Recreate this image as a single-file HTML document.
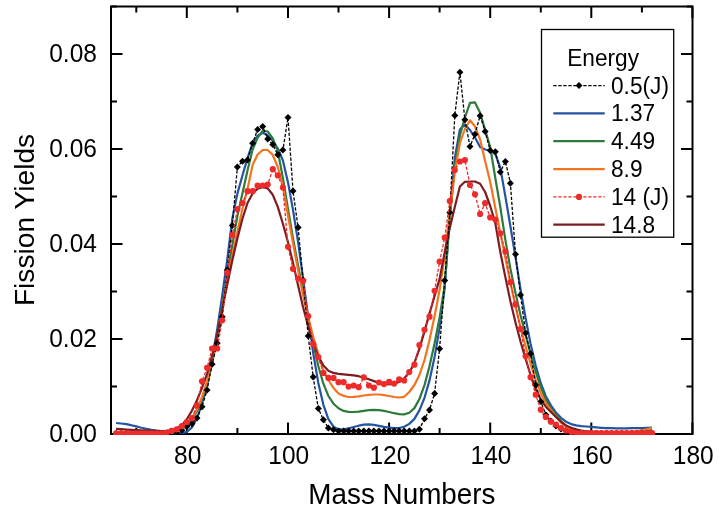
<!DOCTYPE html>
<html><head><meta charset="utf-8">
<style>
html,body{margin:0;padding:0;background:#fff;}
body{width:724px;height:515px;overflow:hidden;}
svg{display:block;font-family:"Liberation Sans", sans-serif;filter:blur(0.45px);}
</style></head>
<body>
<svg width="724" height="515" viewBox="0 0 724 515">
<rect width="724" height="515" fill="#fff"/>
<defs><clipPath id="pc"><rect x="110" y="5.5" width="583.5" height="429.5"/></clipPath></defs>
<rect x="111" y="6.5" width="581.5" height="427.5" fill="none" stroke="#000" stroke-width="2"/>
<path stroke="#000" stroke-width="2" fill="none" d="M136.3 434v-6M136.3 6.5v6M186.8 434v-11.5M186.8 6.5v11.5M237.4 434v-6M237.4 6.5v6M288.0 434v-11.5M288.0 6.5v11.5M338.5 434v-6M338.5 6.5v6M389.1 434v-11.5M389.1 6.5v11.5M439.6 434v-6M439.6 6.5v6M490.2 434v-11.5M490.2 6.5v11.5M540.8 434v-6M540.8 6.5v6M591.3 434v-11.5M591.3 6.5v11.5M641.9 434v-6M641.9 6.5v6M692.4 434v-11.5M692.4 6.5v11.5M111 434.0h11.5M692.5 434.0h-11.5M111 386.5h6M692.5 386.5h-6M111 339.0h11.5M692.5 339.0h-11.5M111 291.5h6M692.5 291.5h-6M111 244.0h11.5M692.5 244.0h-11.5M111 196.5h6M692.5 196.5h-6M111 149.0h11.5M692.5 149.0h-11.5M111 101.5h6M692.5 101.5h-6M111 54.0h11.5M692.5 54.0h-11.5M111 6.5h6M692.5 6.5h-6"/>
<g clip-path="url(#pc)">
<path d="M116.1 423.0 L121.1 423.5 L126.2 424.2 L131.2 425.2 L136.3 426.4 L141.3 427.7 L146.4 428.9 L151.4 429.9 L156.5 430.7 L161.6 431.3 L166.6 432.0 L171.7 432.5 L176.7 432.9 L181.8 433.0 L186.8 431.9 L191.9 427.5 L197.0 418.0 L202.0 403.5 L207.1 384.4 L212.1 359.7 L217.2 329.5 L222.2 295.9 L227.3 259.2 L232.3 218.8 L237.4 193.6 L242.5 175.2 L247.5 158.1 L252.6 143.0 L257.6 135.6 L262.7 132.7 L267.7 135.2 L272.8 141.0 L277.8 148.5 L282.9 160.5 L288.0 182.4 L293.0 209.9 L298.1 242.2 L303.1 278.9 L308.2 317.2 L313.2 353.2 L318.3 382.9 L323.4 404.8 L328.4 419.1 L333.5 426.7 L338.5 429.4 L343.6 429.4 L348.6 428.3 L353.7 427.0 L358.7 425.7 L363.8 424.7 L368.9 424.4 L373.9 424.9 L379.0 425.8 L384.0 426.8 L389.1 427.7 L394.1 428.2 L399.2 428.0 L404.2 426.7 L409.3 423.9 L414.4 418.9 L419.4 410.4 L424.5 397.8 L429.5 380.4 L434.6 356.9 L439.6 327.9 L444.7 287.9 L449.8 214.8 L454.8 158.0 L459.9 129.5 L464.9 124.5 L470.0 130.0 L475.0 137.5 L480.1 147.0 L485.1 149.5 L490.2 150.5 L495.3 154.0 L500.3 167.7 L505.4 196.6 L510.4 226.3 L515.5 257.3 L520.5 288.8 L525.6 318.2 L530.6 343.9 L535.7 365.6 L540.8 383.2 L545.8 396.2 L550.9 405.4 L555.9 412.4 L561.0 417.8 L566.0 421.7 L571.1 424.1 L576.2 425.4 L581.2 426.1 L586.3 426.5 L591.3 426.9 L596.4 427.4 L601.4 427.8 L606.5 428.1 L611.5 428.2 L616.6 428.3 L621.7 428.3 L626.7 428.3 L631.8 428.2 L636.8 428.2 L641.9 428.1 L646.9 427.9 L652.0 427.7" fill="none" stroke="#2453a2" stroke-width="2.2" stroke-linejoin="round"/>
<path d="M116.1 433.4 L121.1 433.4 L126.2 433.3 L131.2 433.3 L136.3 433.2 L141.3 433.2 L146.4 433.1 L151.4 433.0 L156.5 432.9 L161.6 432.6 L166.6 432.2 L171.7 431.4 L176.7 430.1 L181.8 428.0 L186.8 424.7 L191.9 419.4 L197.0 411.2 L202.0 399.4 L207.1 383.9 L212.1 363.5 L217.2 337.4 L222.2 307.3 L227.3 276.3 L232.3 245.4 L237.4 216.1 L242.5 193.0 L247.5 170.5 L252.6 149.5 L257.6 137.9 L262.7 130.8 L267.7 131.5 L272.8 138.5 L277.8 151.0 L282.9 178.0 L288.0 208.9 L293.0 238.3 L298.1 265.6 L303.1 291.8 L308.2 318.1 L313.2 343.5 L318.3 366.0 L323.4 383.7 L328.4 396.0 L333.5 403.7 L338.5 408.3 L343.6 410.9 L348.6 411.9 L353.7 412.0 L358.7 411.6 L363.8 410.8 L368.9 410.2 L373.9 409.9 L379.0 410.1 L384.0 410.9 L389.1 412.0 L394.1 413.2 L399.2 414.2 L404.2 414.4 L409.3 412.8 L414.4 408.1 L419.4 399.0 L424.5 385.1 L429.5 366.2 L434.6 343.2 L439.6 317.5 L444.7 285.4 L449.8 218.1 L454.8 166.7 L459.9 135.5 L464.9 117.5 L470.0 102.8 L475.0 102.4 L480.1 112.8 L485.1 129.5 L490.2 147.0 L495.3 178.0 L500.3 207.0 L505.4 240.2 L510.4 268.8 L515.5 293.1 L520.5 315.1 L525.6 335.2 L530.6 354.1 L535.7 371.6 L540.8 387.3 L545.8 399.6 L550.9 408.2 L555.9 414.9 L561.0 421.0 L566.0 425.9 L571.1 428.9 L576.2 430.4 L581.2 431.2 L586.3 431.7 L591.3 432.1 L596.4 432.4 L601.4 432.5 L606.5 432.6 L611.5 432.7 L616.6 432.8 L621.7 432.8 L626.7 432.7 L631.8 432.5 L636.8 432.1 L641.9 431.6 L646.9 430.9 L652.0 430.0" fill="none" stroke="#2e7a3c" stroke-width="2.2" stroke-linejoin="round"/>
<path d="M116.1 433.4 L121.1 433.4 L126.2 433.4 L131.2 433.3 L136.3 433.3 L141.3 433.2 L146.4 433.1 L151.4 433.0 L156.5 432.9 L161.6 432.6 L166.6 432.2 L171.7 431.3 L176.7 429.7 L181.8 427.3 L186.8 423.8 L191.9 418.1 L197.0 409.4 L202.0 397.1 L207.1 381.2 L212.1 360.8 L217.2 335.7 L222.2 308.2 L227.3 281.3 L232.3 255.6 L237.4 231.7 L242.5 208.5 L247.5 189.0 L252.6 165.0 L257.6 154.5 L262.7 150.0 L267.7 150.0 L272.8 155.0 L277.8 167.0 L282.9 186.0 L288.0 215.8 L293.0 243.1 L298.1 270.2 L303.1 295.2 L308.2 317.3 L313.2 336.9 L318.3 353.8 L323.4 371.0 L328.4 380.0 L333.5 388.0 L338.5 393.5 L343.6 395.9 L348.6 397.0 L353.7 396.9 L358.7 396.3 L363.8 395.5 L368.9 394.9 L373.9 394.5 L379.0 394.5 L384.0 395.1 L389.1 396.0 L394.1 397.0 L399.2 397.5 L404.2 396.8 L409.3 392.0 L414.4 385.0 L419.4 375.0 L424.5 360.0 L429.5 340.0 L434.6 316.0 L439.6 290.0 L444.7 255.5 L449.8 211.9 L454.8 171.9 L459.9 143.0 L464.9 129.0 L470.0 120.3 L475.0 126.5 L480.1 139.5 L485.1 161.0 L490.2 182.0 L495.3 207.8 L500.3 232.9 L505.4 258.1 L510.4 282.9 L515.5 306.2 L520.5 327.3 L525.6 346.3 L530.6 363.8 L535.7 379.9 L540.8 393.4 L545.8 403.1 L550.9 410.2 L555.9 416.6 L561.0 422.6 L566.0 427.0 L571.1 429.5 L576.2 430.7 L581.2 431.2 L586.3 431.4 L591.3 431.6 L596.4 431.7 L601.4 431.9 L606.5 431.9 L611.5 432.0 L616.6 431.9 L621.7 431.9 L626.7 431.8 L631.8 431.6 L636.8 431.1 L641.9 430.4 L646.9 429.2 L652.0 427.8" fill="none" stroke="#f47320" stroke-width="2.2" stroke-linejoin="round"/>
<path d="M116.1 428.8 L121.1 429.2 L126.2 429.6 L131.2 429.9 L136.3 430.2 L141.3 430.4 L146.4 430.6 L151.4 430.8 L156.5 430.9 L161.6 431.0 L166.6 430.8 L171.7 430.2 L176.7 428.5 L181.8 425.1 L186.8 419.2 L191.9 410.8 L197.0 400.2 L202.0 387.9 L207.1 373.6 L212.1 355.9 L217.2 333.9 L222.2 309.2 L227.3 284.5 L232.3 260.5 L237.4 238.6 L242.5 218.5 L247.5 203.0 L252.6 193.4 L257.6 188.8 L262.7 187.0 L267.7 188.4 L272.8 194.8 L277.8 206.9 L282.9 223.8 L288.0 242.2 L293.0 262.8 L298.1 285.4 L303.1 307.2 L308.2 326.5 L313.2 343.1 L318.3 356.4 L323.4 365.6 L328.4 370.7 L333.5 372.9 L338.5 373.9 L343.6 374.4 L348.6 374.8 L353.7 375.3 L358.7 376.2 L363.8 377.7 L368.9 379.3 L373.9 381.1 L379.0 382.6 L384.0 383.8 L389.1 384.3 L394.1 383.8 L399.2 382.0 L404.2 378.4 L409.3 372.5 L414.4 362.9 L419.4 348.8 L424.5 331.4 L429.5 313.4 L434.6 296.0 L439.6 278.9 L444.7 252.4 L449.8 228.0 L454.8 207.0 L459.9 186.5 L464.9 181.8 L470.0 181.5 L475.0 181.5 L480.1 183.8 L485.1 192.0 L490.2 206.0 L495.3 223.0 L500.3 252.0 L505.4 277.4 L510.4 301.2 L515.5 322.5 L520.5 341.5 L525.6 358.9 L530.6 375.0 L535.7 389.0 L540.8 399.6 L545.8 406.7 L550.9 411.9 L555.9 417.0 L561.0 421.8 L566.0 425.4 L571.1 427.8 L576.2 429.4 L581.2 430.6 L586.3 431.4 L591.3 431.8 L596.4 432.0 L601.4 432.1 L606.5 432.2 L611.5 432.2 L616.6 432.3 L621.7 432.3 L626.7 432.3 L631.8 432.4 L636.8 432.4 L641.9 432.4 L646.9 432.5 L652.0 432.5" fill="none" stroke="#7a1c22" stroke-width="2.2" stroke-linejoin="round"/>
<path d="M116.1 433.5 L121.1 433.5 L126.2 433.5 L131.2 433.5 L136.3 433.5 L141.3 433.5 L146.4 433.5 L151.4 433.5 L156.5 433.5 L161.6 433.5 L166.6 433.5 L171.7 433.5 L176.7 433.5 L181.8 430.3 L186.8 426.4 L191.9 423.8 L197.0 418.1 L202.0 406.7 L207.1 389.9 L212.1 364.3 L217.2 343.2 L222.2 316.7 L227.3 270.0 L232.3 225.4 L237.4 167.0 L242.5 161.2 L247.5 160.0 L252.6 143.3 L257.6 129.5 L262.7 126.5 L267.7 139.0 L272.8 144.5 L277.8 154.8 L282.9 150.1 L288.0 117.5 L293.0 191.0 L298.1 227.6 L303.1 280.0 L308.2 336.0 L313.2 377.1 L318.3 408.4 L323.4 419.8 L328.4 427.9 L333.5 429.8 L338.5 431.0 L343.6 431.0 L348.6 431.0 L353.7 431.0 L358.7 431.0 L363.8 431.0 L368.9 431.0 L373.9 431.0 L379.0 431.0 L384.0 431.0 L389.1 431.0 L394.1 431.0 L399.2 431.0 L404.2 431.0 L409.3 431.0 L414.4 431.0 L419.4 429.2 L424.5 418.8 L429.5 410.1 L434.6 393.4 L439.6 348.7 L444.7 280.4 L449.8 212.5 L454.8 115.4 L459.9 72.2 L464.9 119.8 L470.0 146.4 L475.0 134.2 L480.1 115.7 L485.1 131.5 L490.2 150.5 L495.3 151.8 L500.3 172.0 L505.4 161.4 L510.4 183.2 L515.5 254.3 L520.5 295.1 L525.6 332.9 L530.6 353.8 L535.7 384.9 L540.8 401.5 L545.8 414.7 L550.9 421.0 L555.9 426.1 L561.0 429.0 L566.0 431.0 L571.1 433.3 L576.2 433.3 L581.2 433.3 L586.3 433.3 L591.3 433.3 L596.4 433.3 L601.4 433.3 L606.5 433.3 L611.5 433.3 L616.6 433.3 L621.7 433.3 L626.7 433.3 L631.8 433.3 L636.8 433.3 L641.9 433.3 L646.9 433.3 L652.0 433.3" fill="none" stroke="#000" stroke-width="1.3" stroke-dasharray="3.3 1.7"/>
<path d="M116.1 430.0l3.5 3.5l-3.5 3.5l-3.5-3.5z"/><path d="M121.1 430.0l3.5 3.5l-3.5 3.5l-3.5-3.5z"/><path d="M126.2 430.0l3.5 3.5l-3.5 3.5l-3.5-3.5z"/><path d="M131.2 430.0l3.5 3.5l-3.5 3.5l-3.5-3.5z"/><path d="M136.3 430.0l3.5 3.5l-3.5 3.5l-3.5-3.5z"/><path d="M141.3 430.0l3.5 3.5l-3.5 3.5l-3.5-3.5z"/><path d="M146.4 430.0l3.5 3.5l-3.5 3.5l-3.5-3.5z"/><path d="M151.4 430.0l3.5 3.5l-3.5 3.5l-3.5-3.5z"/><path d="M156.5 430.0l3.5 3.5l-3.5 3.5l-3.5-3.5z"/><path d="M161.6 430.0l3.5 3.5l-3.5 3.5l-3.5-3.5z"/><path d="M166.6 430.0l3.5 3.5l-3.5 3.5l-3.5-3.5z"/><path d="M171.7 430.0l3.5 3.5l-3.5 3.5l-3.5-3.5z"/><path d="M176.7 430.0l3.5 3.5l-3.5 3.5l-3.5-3.5z"/><path d="M181.8 426.8l3.5 3.5l-3.5 3.5l-3.5-3.5z"/><path d="M186.8 422.9l3.5 3.5l-3.5 3.5l-3.5-3.5z"/><path d="M191.9 420.3l3.5 3.5l-3.5 3.5l-3.5-3.5z"/><path d="M197.0 414.6l3.5 3.5l-3.5 3.5l-3.5-3.5z"/><path d="M202.0 403.2l3.5 3.5l-3.5 3.5l-3.5-3.5z"/><path d="M207.1 386.4l3.5 3.5l-3.5 3.5l-3.5-3.5z"/><path d="M212.1 360.8l3.5 3.5l-3.5 3.5l-3.5-3.5z"/><path d="M217.2 339.7l3.5 3.5l-3.5 3.5l-3.5-3.5z"/><path d="M222.2 313.2l3.5 3.5l-3.5 3.5l-3.5-3.5z"/><path d="M227.3 266.5l3.5 3.5l-3.5 3.5l-3.5-3.5z"/><path d="M232.3 221.9l3.5 3.5l-3.5 3.5l-3.5-3.5z"/><path d="M237.4 163.5l3.5 3.5l-3.5 3.5l-3.5-3.5z"/><path d="M242.5 157.7l3.5 3.5l-3.5 3.5l-3.5-3.5z"/><path d="M247.5 156.5l3.5 3.5l-3.5 3.5l-3.5-3.5z"/><path d="M252.6 139.8l3.5 3.5l-3.5 3.5l-3.5-3.5z"/><path d="M257.6 126.0l3.5 3.5l-3.5 3.5l-3.5-3.5z"/><path d="M262.7 123.0l3.5 3.5l-3.5 3.5l-3.5-3.5z"/><path d="M267.7 135.5l3.5 3.5l-3.5 3.5l-3.5-3.5z"/><path d="M272.8 141.0l3.5 3.5l-3.5 3.5l-3.5-3.5z"/><path d="M277.8 151.3l3.5 3.5l-3.5 3.5l-3.5-3.5z"/><path d="M282.9 146.6l3.5 3.5l-3.5 3.5l-3.5-3.5z"/><path d="M288.0 114.0l3.5 3.5l-3.5 3.5l-3.5-3.5z"/><path d="M293.0 187.5l3.5 3.5l-3.5 3.5l-3.5-3.5z"/><path d="M298.1 224.1l3.5 3.5l-3.5 3.5l-3.5-3.5z"/><path d="M303.1 276.5l3.5 3.5l-3.5 3.5l-3.5-3.5z"/><path d="M308.2 332.5l3.5 3.5l-3.5 3.5l-3.5-3.5z"/><path d="M313.2 373.6l3.5 3.5l-3.5 3.5l-3.5-3.5z"/><path d="M318.3 404.9l3.5 3.5l-3.5 3.5l-3.5-3.5z"/><path d="M323.4 416.3l3.5 3.5l-3.5 3.5l-3.5-3.5z"/><path d="M328.4 424.4l3.5 3.5l-3.5 3.5l-3.5-3.5z"/><path d="M333.5 426.3l3.5 3.5l-3.5 3.5l-3.5-3.5z"/><path d="M338.5 427.5l3.5 3.5l-3.5 3.5l-3.5-3.5z"/><path d="M343.6 427.5l3.5 3.5l-3.5 3.5l-3.5-3.5z"/><path d="M348.6 427.5l3.5 3.5l-3.5 3.5l-3.5-3.5z"/><path d="M353.7 427.5l3.5 3.5l-3.5 3.5l-3.5-3.5z"/><path d="M358.7 427.5l3.5 3.5l-3.5 3.5l-3.5-3.5z"/><path d="M363.8 427.5l3.5 3.5l-3.5 3.5l-3.5-3.5z"/><path d="M368.9 427.5l3.5 3.5l-3.5 3.5l-3.5-3.5z"/><path d="M373.9 427.5l3.5 3.5l-3.5 3.5l-3.5-3.5z"/><path d="M379.0 427.5l3.5 3.5l-3.5 3.5l-3.5-3.5z"/><path d="M384.0 427.5l3.5 3.5l-3.5 3.5l-3.5-3.5z"/><path d="M389.1 427.5l3.5 3.5l-3.5 3.5l-3.5-3.5z"/><path d="M394.1 427.5l3.5 3.5l-3.5 3.5l-3.5-3.5z"/><path d="M399.2 427.5l3.5 3.5l-3.5 3.5l-3.5-3.5z"/><path d="M404.2 427.5l3.5 3.5l-3.5 3.5l-3.5-3.5z"/><path d="M409.3 427.5l3.5 3.5l-3.5 3.5l-3.5-3.5z"/><path d="M414.4 427.5l3.5 3.5l-3.5 3.5l-3.5-3.5z"/><path d="M419.4 425.7l3.5 3.5l-3.5 3.5l-3.5-3.5z"/><path d="M424.5 415.3l3.5 3.5l-3.5 3.5l-3.5-3.5z"/><path d="M429.5 406.6l3.5 3.5l-3.5 3.5l-3.5-3.5z"/><path d="M434.6 389.9l3.5 3.5l-3.5 3.5l-3.5-3.5z"/><path d="M439.6 345.2l3.5 3.5l-3.5 3.5l-3.5-3.5z"/><path d="M444.7 276.9l3.5 3.5l-3.5 3.5l-3.5-3.5z"/><path d="M449.8 209.0l3.5 3.5l-3.5 3.5l-3.5-3.5z"/><path d="M454.8 111.9l3.5 3.5l-3.5 3.5l-3.5-3.5z"/><path d="M459.9 68.7l3.5 3.5l-3.5 3.5l-3.5-3.5z"/><path d="M464.9 116.3l3.5 3.5l-3.5 3.5l-3.5-3.5z"/><path d="M470.0 142.9l3.5 3.5l-3.5 3.5l-3.5-3.5z"/><path d="M475.0 130.7l3.5 3.5l-3.5 3.5l-3.5-3.5z"/><path d="M480.1 112.2l3.5 3.5l-3.5 3.5l-3.5-3.5z"/><path d="M485.1 128.0l3.5 3.5l-3.5 3.5l-3.5-3.5z"/><path d="M490.2 147.0l3.5 3.5l-3.5 3.5l-3.5-3.5z"/><path d="M495.3 148.3l3.5 3.5l-3.5 3.5l-3.5-3.5z"/><path d="M500.3 168.5l3.5 3.5l-3.5 3.5l-3.5-3.5z"/><path d="M505.4 157.9l3.5 3.5l-3.5 3.5l-3.5-3.5z"/><path d="M510.4 179.7l3.5 3.5l-3.5 3.5l-3.5-3.5z"/><path d="M515.5 250.8l3.5 3.5l-3.5 3.5l-3.5-3.5z"/><path d="M520.5 291.6l3.5 3.5l-3.5 3.5l-3.5-3.5z"/><path d="M525.6 329.4l3.5 3.5l-3.5 3.5l-3.5-3.5z"/><path d="M530.6 350.3l3.5 3.5l-3.5 3.5l-3.5-3.5z"/><path d="M535.7 381.4l3.5 3.5l-3.5 3.5l-3.5-3.5z"/><path d="M540.8 398.0l3.5 3.5l-3.5 3.5l-3.5-3.5z"/><path d="M545.8 411.2l3.5 3.5l-3.5 3.5l-3.5-3.5z"/><path d="M550.9 417.5l3.5 3.5l-3.5 3.5l-3.5-3.5z"/><path d="M555.9 422.6l3.5 3.5l-3.5 3.5l-3.5-3.5z"/><path d="M561.0 425.5l3.5 3.5l-3.5 3.5l-3.5-3.5z"/><path d="M566.0 427.5l3.5 3.5l-3.5 3.5l-3.5-3.5z"/><path d="M571.1 429.8l3.5 3.5l-3.5 3.5l-3.5-3.5z"/><path d="M576.2 429.8l3.5 3.5l-3.5 3.5l-3.5-3.5z"/><path d="M581.2 429.8l3.5 3.5l-3.5 3.5l-3.5-3.5z"/><path d="M586.3 429.8l3.5 3.5l-3.5 3.5l-3.5-3.5z"/><path d="M591.3 429.8l3.5 3.5l-3.5 3.5l-3.5-3.5z"/><path d="M596.4 429.8l3.5 3.5l-3.5 3.5l-3.5-3.5z"/><path d="M601.4 429.8l3.5 3.5l-3.5 3.5l-3.5-3.5z"/><path d="M606.5 429.8l3.5 3.5l-3.5 3.5l-3.5-3.5z"/><path d="M611.5 429.8l3.5 3.5l-3.5 3.5l-3.5-3.5z"/><path d="M616.6 429.8l3.5 3.5l-3.5 3.5l-3.5-3.5z"/><path d="M621.7 429.8l3.5 3.5l-3.5 3.5l-3.5-3.5z"/><path d="M626.7 429.8l3.5 3.5l-3.5 3.5l-3.5-3.5z"/><path d="M631.8 429.8l3.5 3.5l-3.5 3.5l-3.5-3.5z"/><path d="M636.8 429.8l3.5 3.5l-3.5 3.5l-3.5-3.5z"/><path d="M641.9 429.8l3.5 3.5l-3.5 3.5l-3.5-3.5z"/><path d="M646.9 429.8l3.5 3.5l-3.5 3.5l-3.5-3.5z"/><path d="M652.0 429.8l3.5 3.5l-3.5 3.5l-3.5-3.5z"/>
<path d="M116.1 433.3 L121.1 433.3 L126.2 433.3 L131.2 433.3 L136.3 433.3 L141.3 433.3 L146.4 433.3 L151.4 433.3 L156.5 433.3 L161.6 433.3 L166.6 432.5 L171.7 430.9 L176.7 429.3 L181.8 426.2 L186.8 422.0 L191.9 418.2 L197.0 405.6 L202.0 381.3 L207.1 367.8 L212.1 348.5 L217.2 348.5 L222.2 320.3 L227.3 272.7 L232.3 235.2 L237.4 209.0 L242.5 203.0 L247.5 191.2 L252.6 191.2 L257.6 185.7 L262.7 185.5 L267.7 184.5 L272.8 169.2 L277.8 175.4 L282.9 187.5 L288.0 246.8 L293.0 268.8 L298.1 278.5 L303.1 281.0 L308.2 316.2 L313.2 344.2 L318.3 357.2 L323.4 372.9 L328.4 377.9 L333.5 377.9 L338.5 382.2 L343.6 382.2 L348.6 386.6 L353.7 385.5 L358.7 387.2 L363.8 377.3 L368.9 385.5 L373.9 387.7 L379.0 382.5 L384.0 384.1 L389.1 381.8 L394.1 383.6 L399.2 379.4 L404.2 380.5 L409.3 372.1 L414.4 364.7 L419.4 345.0 L424.5 329.8 L429.5 316.7 L434.6 290.8 L439.6 261.6 L444.7 237.7 L449.8 201.0 L454.8 170.0 L459.9 161.5 L464.9 160.1 L470.0 185.0 L475.0 194.3 L480.1 214.0 L485.1 203.2 L490.2 217.4 L495.3 219.6 L500.3 233.4 L505.4 251.6 L510.4 282.2 L515.5 304.4 L520.5 329.0 L525.6 356.1 L530.6 377.2 L535.7 394.7 L540.8 409.7 L545.8 416.9 L550.9 421.7 L555.9 424.5 L561.0 428.0 L566.0 430.5 L571.1 431.8 L576.2 433.2 L581.2 433.2 L586.3 433.2 L591.3 433.2 L596.4 433.2 L601.4 433.2 L606.5 433.2 L611.5 433.2 L616.6 433.2 L621.7 433.2 L626.7 433.2 L631.8 433.2 L636.8 433.2 L641.9 433.2 L646.9 433.2 L652.0 433.2" fill="none" stroke="#ee2b2b" stroke-width="1.3" stroke-dasharray="3.3 1.7"/>
<g fill="#ee2b2b"><circle cx="116.1" cy="433.3" r="3.1"/><circle cx="121.1" cy="433.3" r="3.1"/><circle cx="126.2" cy="433.3" r="3.1"/><circle cx="131.2" cy="433.3" r="3.1"/><circle cx="136.3" cy="433.3" r="3.1"/><circle cx="141.3" cy="433.3" r="3.1"/><circle cx="146.4" cy="433.3" r="3.1"/><circle cx="151.4" cy="433.3" r="3.1"/><circle cx="156.5" cy="433.3" r="3.1"/><circle cx="161.6" cy="433.3" r="3.1"/><circle cx="166.6" cy="432.5" r="3.1"/><circle cx="171.7" cy="430.9" r="3.1"/><circle cx="176.7" cy="429.3" r="3.1"/><circle cx="181.8" cy="426.2" r="3.1"/><circle cx="186.8" cy="422.0" r="3.1"/><circle cx="191.9" cy="418.2" r="3.1"/><circle cx="197.0" cy="405.6" r="3.1"/><circle cx="202.0" cy="381.3" r="3.1"/><circle cx="207.1" cy="367.8" r="3.1"/><circle cx="212.1" cy="348.5" r="3.1"/><circle cx="217.2" cy="348.5" r="3.1"/><circle cx="222.2" cy="320.3" r="3.1"/><circle cx="227.3" cy="272.7" r="3.1"/><circle cx="232.3" cy="235.2" r="3.1"/><circle cx="237.4" cy="209.0" r="3.1"/><circle cx="242.5" cy="203.0" r="3.1"/><circle cx="247.5" cy="191.2" r="3.1"/><circle cx="252.6" cy="191.2" r="3.1"/><circle cx="257.6" cy="185.7" r="3.1"/><circle cx="262.7" cy="185.5" r="3.1"/><circle cx="267.7" cy="184.5" r="3.1"/><circle cx="272.8" cy="169.2" r="3.1"/><circle cx="277.8" cy="175.4" r="3.1"/><circle cx="282.9" cy="187.5" r="3.1"/><circle cx="288.0" cy="246.8" r="3.1"/><circle cx="293.0" cy="268.8" r="3.1"/><circle cx="298.1" cy="278.5" r="3.1"/><circle cx="303.1" cy="281.0" r="3.1"/><circle cx="308.2" cy="316.2" r="3.1"/><circle cx="313.2" cy="344.2" r="3.1"/><circle cx="318.3" cy="357.2" r="3.1"/><circle cx="323.4" cy="372.9" r="3.1"/><circle cx="328.4" cy="377.9" r="3.1"/><circle cx="333.5" cy="377.9" r="3.1"/><circle cx="338.5" cy="382.2" r="3.1"/><circle cx="343.6" cy="382.2" r="3.1"/><circle cx="348.6" cy="386.6" r="3.1"/><circle cx="353.7" cy="385.5" r="3.1"/><circle cx="358.7" cy="387.2" r="3.1"/><circle cx="363.8" cy="377.3" r="3.1"/><circle cx="368.9" cy="385.5" r="3.1"/><circle cx="373.9" cy="387.7" r="3.1"/><circle cx="379.0" cy="382.5" r="3.1"/><circle cx="384.0" cy="384.1" r="3.1"/><circle cx="389.1" cy="381.8" r="3.1"/><circle cx="394.1" cy="383.6" r="3.1"/><circle cx="399.2" cy="379.4" r="3.1"/><circle cx="404.2" cy="380.5" r="3.1"/><circle cx="409.3" cy="372.1" r="3.1"/><circle cx="414.4" cy="364.7" r="3.1"/><circle cx="419.4" cy="345.0" r="3.1"/><circle cx="424.5" cy="329.8" r="3.1"/><circle cx="429.5" cy="316.7" r="3.1"/><circle cx="434.6" cy="290.8" r="3.1"/><circle cx="439.6" cy="261.6" r="3.1"/><circle cx="444.7" cy="237.7" r="3.1"/><circle cx="449.8" cy="201.0" r="3.1"/><circle cx="454.8" cy="170.0" r="3.1"/><circle cx="459.9" cy="161.5" r="3.1"/><circle cx="464.9" cy="160.1" r="3.1"/><circle cx="470.0" cy="185.0" r="3.1"/><circle cx="475.0" cy="194.3" r="3.1"/><circle cx="480.1" cy="214.0" r="3.1"/><circle cx="485.1" cy="203.2" r="3.1"/><circle cx="490.2" cy="217.4" r="3.1"/><circle cx="495.3" cy="219.6" r="3.1"/><circle cx="500.3" cy="233.4" r="3.1"/><circle cx="505.4" cy="251.6" r="3.1"/><circle cx="510.4" cy="282.2" r="3.1"/><circle cx="515.5" cy="304.4" r="3.1"/><circle cx="520.5" cy="329.0" r="3.1"/><circle cx="525.6" cy="356.1" r="3.1"/><circle cx="530.6" cy="377.2" r="3.1"/><circle cx="535.7" cy="394.7" r="3.1"/><circle cx="540.8" cy="409.7" r="3.1"/><circle cx="545.8" cy="416.9" r="3.1"/><circle cx="550.9" cy="421.7" r="3.1"/><circle cx="555.9" cy="424.5" r="3.1"/><circle cx="561.0" cy="428.0" r="3.1"/><circle cx="566.0" cy="430.5" r="3.1"/><circle cx="571.1" cy="431.8" r="3.1"/><circle cx="576.2" cy="433.2" r="3.1"/><circle cx="581.2" cy="433.2" r="3.1"/><circle cx="586.3" cy="433.2" r="3.1"/><circle cx="591.3" cy="433.2" r="3.1"/><circle cx="596.4" cy="433.2" r="3.1"/><circle cx="601.4" cy="433.2" r="3.1"/><circle cx="606.5" cy="433.2" r="3.1"/><circle cx="611.5" cy="433.2" r="3.1"/><circle cx="616.6" cy="433.2" r="3.1"/><circle cx="621.7" cy="433.2" r="3.1"/><circle cx="626.7" cy="433.2" r="3.1"/><circle cx="631.8" cy="433.2" r="3.1"/><circle cx="636.8" cy="433.2" r="3.1"/><circle cx="641.9" cy="433.2" r="3.1"/><circle cx="646.9" cy="433.2" r="3.1"/><circle cx="652.0" cy="433.2" r="3.1"/></g>
</g>
<g fill="#000">
<text transform="translate(96.90,441.90) scale(1,1.05)" font-size="24.5" text-anchor="end">0.00</text><text transform="translate(96.90,346.90) scale(1,1.05)" font-size="24.5" text-anchor="end">0.02</text><text transform="translate(96.90,251.90) scale(1,1.05)" font-size="24.5" text-anchor="end">0.04</text><text transform="translate(96.90,156.90) scale(1,1.05)" font-size="24.5" text-anchor="end">0.06</text><text transform="translate(96.90,61.90) scale(1,1.05)" font-size="24.5" text-anchor="end">0.08</text><text transform="translate(187.64,463.60) scale(1,1.05)" font-size="24.5" text-anchor="middle">80</text><text transform="translate(288.76,463.60) scale(1,1.05)" font-size="24.5" text-anchor="middle">100</text><text transform="translate(389.88,463.60) scale(1,1.05)" font-size="24.5" text-anchor="middle">120</text><text transform="translate(491.00,463.60) scale(1,1.05)" font-size="24.5" text-anchor="middle">140</text><text transform="translate(592.12,463.60) scale(1,1.05)" font-size="24.5" text-anchor="middle">160</text><text transform="translate(693.24,463.60) scale(1,1.05)" font-size="24.5" text-anchor="middle">180</text><text transform="translate(401.90,503.90) scale(1,1.053)" font-size="27.85" text-anchor="middle">Mass Numbers</text><text transform="translate(33.60,219.95) rotate(-90) scale(1.052,1)" font-size="26.8" text-anchor="middle">Fission Yields</text>
</g>
<rect x="541.5" y="29.5" width="132.2" height="207.7" fill="#fff" stroke="#000" stroke-width="1.3"/>
<g fill="#000">
<text transform="translate(567.20,65.60) scale(1,1.085)" font-size="22.7" text-anchor="start">Energy</text><text transform="translate(611.00,93.50) scale(1,1.085)" font-size="22.7" text-anchor="start">0.5(J)</text><text transform="translate(611.00,121.32) scale(1,1.085)" font-size="22.7" text-anchor="start">1.37</text><text transform="translate(611.00,149.14) scale(1,1.085)" font-size="22.7" text-anchor="start">4.49</text><text transform="translate(611.00,176.96) scale(1,1.085)" font-size="22.7" text-anchor="start">8.9</text><text transform="translate(611.00,204.78) scale(1,1.085)" font-size="22.7" text-anchor="start">14 (J)</text><text transform="translate(611.00,232.60) scale(1,1.085)" font-size="22.7" text-anchor="start">14.8</text><line x1="553.3" y1="85.6" x2="604.7" y2="85.6" stroke="#000" stroke-width="1.3" stroke-dasharray="3.3 1.7"/><path d="M579 82.1l3.5 3.5l-3.5 3.5l-3.5-3.5z" fill="#000"/><line x1="553.3" y1="113.4" x2="604.7" y2="113.4" stroke="#2453a2" stroke-width="2.2"/><line x1="553.3" y1="141.2" x2="604.7" y2="141.2" stroke="#2e7a3c" stroke-width="2.2"/><line x1="553.3" y1="169.1" x2="604.7" y2="169.1" stroke="#f47320" stroke-width="2.2"/><line x1="553.3" y1="224.7" x2="604.7" y2="224.7" stroke="#7a1c22" stroke-width="2.2"/><line x1="553.3" y1="196.9" x2="604.7" y2="196.9" stroke="#ee2b2b" stroke-width="1.3" stroke-dasharray="3.3 1.7"/><circle cx="579" cy="196.9" r="3.1" fill="#ee2b2b"/>
</g>
</svg>
</body></html>
